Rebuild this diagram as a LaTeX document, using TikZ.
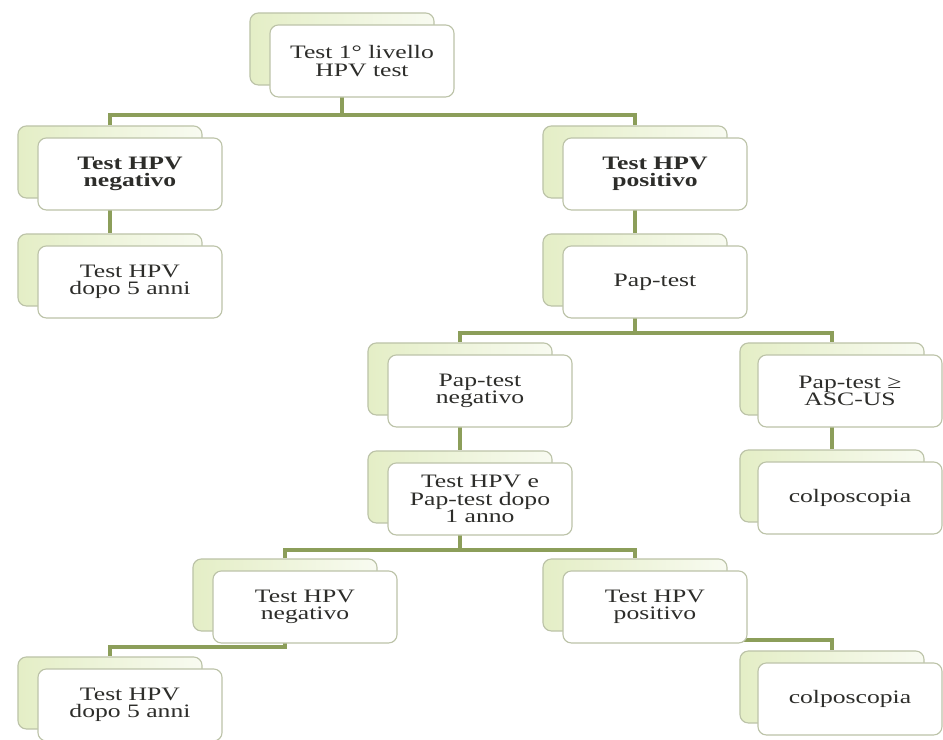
\documentclass[tikz,border=0pt]{standalone}
\usepackage{fontspec}
\setmainfont{Liberation Serif}[FakeStretch=1.35]
\usetikzlibrary{positioning,backgrounds}

\definecolor{linkgreen}{RGB}{140,158,90}
\definecolor{cardline}{RGB}{188,195,168}
\definecolor{cardgreen}{RGB}{228,238,198}
\definecolor{cardtext}{RGB}{45,45,42}

\begin{document}
\begin{tikzpicture}[
    x=0.025cm, y=-0.025cm,
    font=\fontsize{13.5}{12.5}\selectfont,
    backcard/.style={draw=cardline, left color=cardgreen, right color=cardgreen!25, rounded corners=6pt, minimum width=4.6cm, minimum height=1.8cm, line width=0.8pt},
    card/.style={draw=cardline, fill=white, rounded corners=6pt, minimum width=4.6cm, minimum height=1.8cm, align=center, text=cardtext, inner sep=2pt, line width=0.8pt},
    link/.style={draw=linkgreen, line width=2.2pt}
]
    \useasboundingbox (0,0) rectangle (943,740);

    % --- Livello 1 ---
    \node[backcard] (rootb) at (342,49) {};
    \node[card] (root) at (362,61) {Test 1° livello\\HPV test};

    % --- Esito test HPV ---
    \node[backcard] (neg1b) at (110,162) {};
    \node[card, font=\fontsize{13.5}{12.5}\selectfont\bfseries] (neg1) at (130,174) {Test HPV\\negativo};
    \node[backcard] (pos1b) at (635,162) {};
    \node[card, font=\fontsize{13.5}{12.5}\selectfont\bfseries] (pos1) at (655,174) {Test HPV\\positivo};

    \node[backcard] (dopo1b) at (110,270) {};
    \node[card] (dopo1) at (130,282) {Test HPV\\dopo 5 anni};
    \node[backcard] (papb) at (635,270) {};
    \node[card] (pap) at (655,282) {Pap-test};

    % --- Esito Pap-test ---
    \node[backcard] (papnegb) at (460,379) {};
    \node[card] (papneg) at (480,391) {Pap-test\\negativo};
    \node[backcard] (ascb) at (832,379) {};
    \node[card] (asc) at (850,391) {Pap-test ≥\\ASC-US};

    \node[backcard] (hpvpapb) at (460,487) {};
    \node[card] (hpvpap) at (480,499) {Test HPV e\\Pap-test dopo\\1 anno};
    \node[backcard] (colpo1b) at (832,486) {};
    \node[card] (colpo1) at (850,498) {colposcopia};

    % --- Controllo dopo 1 anno ---
    \node[backcard] (neg2b) at (285,595) {};
    \node[card] (neg2) at (305,607) {Test HPV\\negativo};
    \node[backcard] (pos2b) at (635,595) {};
    \node[card] (pos2) at (655,607) {Test HPV\\positivo};

    \node[backcard] (dopo2b) at (110,693) {};
    \node[card] (dopo2) at (130,705) {Test HPV\\dopo 5 anni};
    \node[backcard] (colpo2b) at (832,687) {};
    \node[card] (colpo2) at (850,699) {colposcopia};

    % --- Collegamenti (sotto le schede) ---
    \coordinate (bar1) at (0,115);
    \coordinate (bar2) at (0,333);
    \coordinate (bar3) at (0,550);
    \coordinate (bar4) at (0,647);
    \coordinate (bar5) at (0,640);

    \begin{pgfonlayer}{background}
        \draw[link] (rootb.south) -- (rootb.south |- bar1);
        \draw[link] (neg1b.north) -- (neg1b.north |- bar1) -- (pos1b.north |- bar1) -- (pos1b.north);
        \draw[link] (neg1b.south) -- (dopo1b.north);
        \draw[link] (pos1b.south) -- (papb.north);

        \draw[link] (papb.south) -- (papb.south |- bar2);
        \draw[link] (papnegb.north) -- (papnegb.north |- bar2) -- (ascb.north |- bar2) -- (ascb.north);
        \draw[link] (papnegb.south) -- (hpvpapb.north);
        \draw[link] (ascb.south) -- (colpo1b.north);

        \draw[link] (hpvpapb.south) -- (hpvpapb.south |- bar3);
        \draw[link] (neg2b.north) -- (neg2b.north |- bar3) -- (pos2b.north |- bar3) -- (pos2b.north);

        \draw[link] (neg2b.south) -- (neg2b.south |- bar4) -- (dopo2b.north |- bar4) -- (dopo2b.north);
        \draw[link] (pos2b.south) -- (pos2b.south |- bar5) -- (colpo2b.north |- bar5) -- (colpo2b.north);
    \end{pgfonlayer}

\end{tikzpicture}
\end{document}
